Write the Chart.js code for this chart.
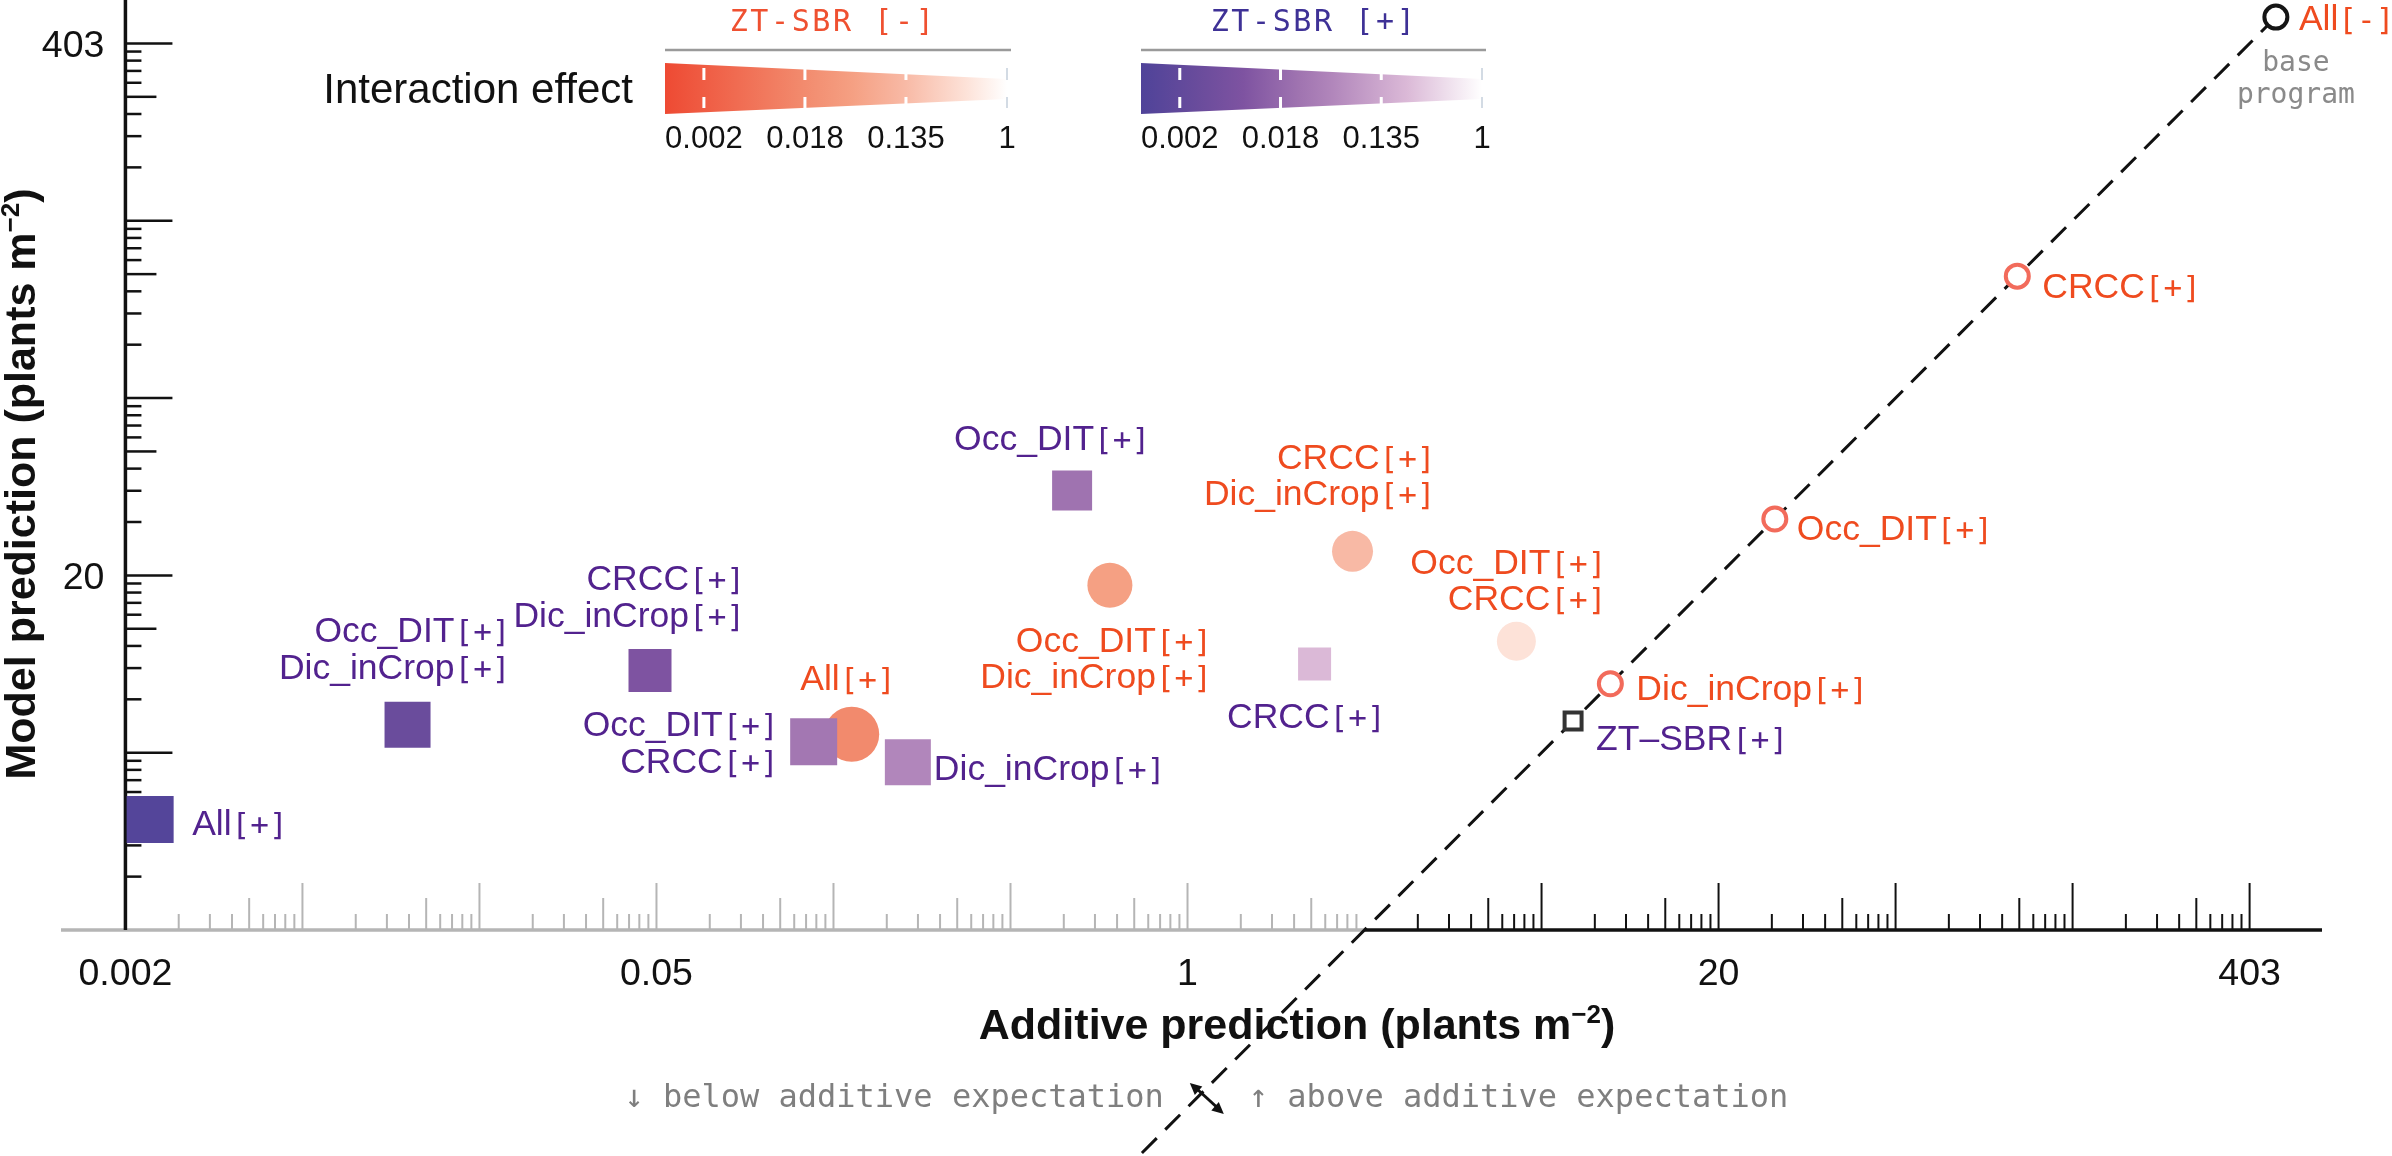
<!DOCTYPE html>
<html>
<head>
<meta charset="utf-8">
<title>Model vs additive prediction</title>
<script src="https://cdn.jsdelivr.net/npm/chart.js@4.4.1/dist/chart.umd.min.js"></script>
<style>
	html, body { margin: 0; padding: 0; background: #fff; }
	#chart { display: block; }
</style>
</head>
<body>
<canvas id="chart" width="2392" height="1156"></canvas>
<script>
;(function (window, document, undefined) {
	'use strict';

	// ZT-SBR[-] combinations (filled circles), plants m-2
	const minusLabels = [['All[+]'], ['Occ_DIT[+]', 'Dic_inCrop[+]'], ['CRCC[+]', 'Dic_inCrop[+]'], ['Occ_DIT[+]', 'CRCC[+]']];
	const minusAdditive = [0.150, 0.645, 2.54, 6.41];
	const minusModel = [8.20, 19.0, 23.0, 13.85];
	const minusEffect = [0.0172, 0.0474, 0.131, 0.445];
	const minusMagnitude = [5.5, 4.5, 4.1, 3.9];

	// ZT-SBR[+] combinations (filled squares)
	const plusLabels = [['All[+]'], ['Occ_DIT[+]', 'Dic_inCrop[+]'], ['CRCC[+]', 'Dic_inCrop[+]'], ['Occ_DIT[+]', 'CRCC[+]'], ['Dic_inCrop[+]'], ['Occ_DIT[+]'], ['CRCC[+]']];
	const plusAdditive = [0.00285, 0.0122, 0.0480, 0.121, 0.206, 0.521, 2.05];
	const plusModel = [5.07, 8.65, 11.74, 7.86, 7.00, 32.4, 12.19];
	const plusEffect = [0.0014, 0.0036, 0.0087, 0.0296, 0.0508, 0.0258, 0.225];
	const plusMagnitude = [4.7, 4.6, 4.3, 4.7, 4.6, 4.0, 3.3];

	// single changes, on the 1:1 line
	const singleLabels = ['CRCC[+]', 'Occ_DIT[+]', 'Dic_inCrop[+]'];
	const singleValues = [108.6, 27.6, 10.9];
	const ztLabel = 'ZT–SBR[+]';
	const ztValue = 8.83;
	const baseLabel = 'All[-]';
	const baseValue = 468;

	// ticks (powers of e) and their labels
	const axisTickPowers = [-6, -3, 0, 3, 6];
	const axisTickLabels = ['0.002', '0.05', '1', '20', '403'];
	const legendTickPowers = [-6, -4, -2, 0];
	const legendTickLabels = ['0.002', '0.018', '0.135', '1'];

	// --- styling ---
	const SANS = '"Liberation Sans", Arial, sans-serif';
	const MONO = '"DejaVu Sans Mono", monospace';
	const ORANGE = '#ef4b1f';
	const PURPLE = '#52228e';
	const INK = '#111111';
	const GREY = '#b5b5b5';
	const RED_STOPS = [[0, '#ee4a33'], [0.40, '#f28a6d'], [0.55, '#f5a083'], [0.70, '#f8b9a5'], [0.88, '#fde2d8'], [1, '#ffffff']];
	const PURPLE_STOPS = [[0, '#4f4399'], [0.17, '#6a4c9c'], [0.30, '#7e53a1'], [0.47, '#a175b1'], [0.56, '#b186bb'], [0.78, '#dbb9d7'], [1, '#ffffff']];
	const LEG_LN_MIN = -6.77;

	// label anchors relative to the marker (px)
	const LABEL_POS = {
		minus: [{a: 'right', dx: 40, dy: -57}, {a: 'right', dx: 98, dy: 54}, {a: 'right', dx: 79, dy: -95}, {a: 'right', dx: 86, dy: -80}],
		plus: [{a: 'left', dx: 42, dy: 3}, {a: 'right', dx: 99, dy: -95}, {a: 'right', dx: 91, dy: -93}, {a: 'right', dx: -39, dy: -18},
			{a: 'left', dx: 26, dy: 5}, {a: 'right', dx: 74, dy: -53}, {a: 'right', dx: 67, dy: 52}],
		single: [{a: 'left', dx: 25, dy: 9}, {a: 'left', dx: 22, dy: 8}, {a: 'left', dx: 26, dy: 4}],
		zt: {a: 'left', dx: 23, dy: 16},
		base: {a: 'left', dx: 23, dy: 0}
	};
	const LINE_GAP = 36.5;

	function hexToRgb(h) {
		return [parseInt(h.substr(1, 2), 16), parseInt(h.substr(3, 2), 16), parseInt(h.substr(5, 2), 16)];
	}

	function effectT(p) {
		let t = (Math.log(p) - LEG_LN_MIN) / (-LEG_LN_MIN);
		return Math.max(0, Math.min(1, t));
	}

	function effectColor(stops, p) {
		let t = effectT(p);
		for (let i = 1; i < stops.length; i++) {
			if (t <= stops[i][0]) {
				let a = hexToRgb(stops[i - 1][1]), b = hexToRgb(stops[i][1]);
				let f = (t - stops[i - 1][0]) / (stops[i][0] - stops[i - 1][0]);
				let c = a.map((v, k) => Math.round(v + (b[k] - v) * f));
				return 'rgb(' + c.join(',') + ')';
			}
		}
		return stops[stops.length - 1][1];
	}

	// name in sans, the [+]/[-] suffix in mono
	function drawTag(ctx, text, x, yMid, align, color) {
		let i = text.indexOf('[');
		let name = i < 0 ? text : text.slice(0, i);
		let suffix = i < 0 ? '' : text.slice(i);
		ctx.font = '35.5px ' + SANS;
		let w1 = ctx.measureText(name).width;
		ctx.font = '31px ' + MONO;
		let w2 = ctx.measureText(suffix).width;
		let total = w1 + w2;
		let x0 = x;
		if (align === 'right') x0 = x - total + 4;
		else if (align === 'center') x0 = x - total / 2;
		let base = yMid + 12.5;
		ctx.fillStyle = color;
		ctx.textAlign = 'left';
		ctx.textBaseline = 'alphabetic';
		ctx.font = '35.5px ' + SANS;
		ctx.fillText(name, x0, base);
		ctx.font = '31px ' + MONO;
		ctx.fillText(suffix, x0 + w1, base);
	}

	function drawTagLines(ctx, lines, px, py, pos, color) {
		lines.forEach(function (line, i) {
			drawTag(ctx, line, px + pos.dx, py + pos.dy + i * LINE_GAP, pos.a, color);
		});
	}

	// bold title with a "-2" superscript, centred on x = 0 of the current transform
	function drawUnitTitle(ctx, head, baseline) {
		let main = 'bold 43px ' + SANS, sup = 'bold 26px ' + SANS;
		ctx.font = main;
		let w1 = ctx.measureText(head).width, w3 = ctx.measureText(')').width;
		ctx.font = sup;
		let w2 = ctx.measureText('−2').width;
		let x = -(w1 + w2 + w3) / 2;
		ctx.textAlign = 'left';
		ctx.textBaseline = 'alphabetic';
		ctx.fillStyle = INK;
		ctx.font = main;
		ctx.fillText(head, x, baseline);
		ctx.font = sup;
		ctx.fillText('−2', x + w1, baseline - 16);
		ctx.font = main;
		ctx.fillText(')', x + w1 + w2, baseline);
	}

	function drawLegend(ctx, left, right, stops, title, titleColor, titleCx) {
		let pxPerLn = (right - left) / (-LEG_LN_MIN);

		ctx.font = '30px ' + MONO;
		ctx.letterSpacing = '2.6px';
		ctx.fillStyle = titleColor;
		ctx.textAlign = 'center';
		ctx.textBaseline = 'alphabetic';
		ctx.fillText(title, titleCx + 1, 31);
		ctx.letterSpacing = '0px';

		ctx.strokeStyle = '#9a9a9a';
		ctx.lineWidth = 2.5;
		ctx.beginPath();
		ctx.moveTo(left, 50);
		ctx.lineTo(right + 4, 50);
		ctx.stroke();

		let grad = ctx.createLinearGradient(left, 0, right, 0);
		stops.forEach(function (s) { grad.addColorStop(s[0], s[1]); });
		ctx.fillStyle = grad;
		ctx.beginPath();
		ctx.moveTo(left, 63);
		ctx.lineTo(right, 79);
		ctx.lineTo(right, 99);
		ctx.lineTo(left, 114);
		ctx.closePath();
		ctx.fill();

		legendTickPowers.forEach(function (p, i) {
			let x = right + p * pxPerLn;
			ctx.strokeStyle = p === 0 ? '#c5cfdb' : '#ffffff';
			ctx.lineWidth = p === 0 ? 1.5 : 3;
			ctx.beginPath();
			ctx.moveTo(x, 68); ctx.lineTo(x, 80);
			ctx.moveTo(x, 97); ctx.lineTo(x, 108);
			ctx.stroke();

			ctx.font = '31px ' + SANS;
			ctx.fillStyle = INK;
			ctx.textAlign = 'center';
			ctx.fillText(legendTickLabels[i], x, 148);
		});
	}

	function arrowHead(ctx, x, y, ang, len) {
		ctx.beginPath();
		ctx.moveTo(x, y);
		ctx.lineTo(x - len * Math.cos(ang - 0.45), y - len * Math.sin(ang - 0.45));
		ctx.lineTo(x - len * Math.cos(ang + 0.45), y - len * Math.sin(ang + 0.45));
		ctx.closePath();
		ctx.fill();
	}

	const decorPlugin = {
		id: 'decor',
		beforeDatasetsDraw: function (chart) {
			const ctx = chart.ctx, xs = chart.scales.x, ys = chart.scales.y, area = chart.chartArea;
			const log10 = Math.log10;
			ctx.save();

			const yAxisX = xs.getPixelForValue(Math.exp(-6));
			const crossX = xs.getPixelForValue(ys.min);

			// x axis: grey below the 1:1 line, black above it
			ctx.lineWidth = 3.5;
			ctx.strokeStyle = GREY;
			ctx.beginPath(); ctx.moveTo(area.left, area.bottom); ctx.lineTo(crossX, area.bottom); ctx.stroke();
			ctx.strokeStyle = INK;
			ctx.beginPath(); ctx.moveTo(crossX, area.bottom); ctx.lineTo(area.right, area.bottom); ctx.stroke();

			ctx.lineWidth = 2;
			for (let k = -6; k <= 6; k++) {
				for (let m = 1; m <= 9; m++) {
					if (m === 1 && (k === -6 || k === 1)) continue;
					if (m > 1 && k === 6) continue;
					let v = Math.exp(k + (m === 1 ? 0 : log10(m)));
					let px = xs.getPixelForValue(v);
					let len = m === 1 ? 47 : (m === 5 ? 32 : 16);
					ctx.strokeStyle = px < crossX ? GREY : INK;
					ctx.beginPath(); ctx.moveTo(px, area.bottom); ctx.lineTo(px, area.bottom - len); ctx.stroke();
				}
			}

			// y axis
			ctx.strokeStyle = INK;
			ctx.lineWidth = 3.5;
			ctx.beginPath(); ctx.moveTo(yAxisX, area.top); ctx.lineTo(yAxisX, area.bottom); ctx.stroke();
			ctx.lineWidth = 2.5;
			for (let k = 1; k <= 6; k++) {
				for (let m = 1; m <= 9; m++) {
					if (m === 1 && k === 1) continue;
					if (m > 1 && k === 6) continue;
					let py = ys.getPixelForValue(Math.exp(k + (m === 1 ? 0 : log10(m))));
					let len = m === 1 ? 47 : (m === 5 ? 31 : 16);
					ctx.beginPath(); ctx.moveTo(yAxisX, py); ctx.lineTo(yAxisX + len, py); ctx.stroke();
				}
			}

			// tick labels
			ctx.font = '37.5px ' + SANS;
			ctx.fillStyle = INK;
			ctx.textBaseline = 'alphabetic';
			axisTickPowers.forEach(function (p, i) {
				let v = Math.exp(p);
				ctx.textAlign = 'center';
				ctx.fillText(axisTickLabels[i], xs.getPixelForValue(v), area.bottom + 55);
				if (v >= ys.min && v <= ys.max) {
					ctx.textAlign = 'right';
					ctx.fillText(axisTickLabels[i], yAxisX - 21, ys.getPixelForValue(v) + 13.5);
				}
			});

			// axis titles
			ctx.save();
			ctx.translate(1297, 0);
			drawUnitTitle(ctx, 'Additive prediction (plants m', 1039);
			ctx.restore();
			ctx.save();
			ctx.translate(35, 484);
			ctx.rotate(-Math.PI / 2);
			drawUnitTitle(ctx, 'Model prediction (plants m', 0);
			ctx.restore();

			// 1:1 line, running past the axis to the bottom edge
			const vBot = ys.getValueForPixel(chart.height);
			ctx.setLineDash([21, 12]);
			ctx.lineWidth = 3;
			ctx.strokeStyle = INK;
			ctx.beginPath();
			ctx.moveTo(xs.getPixelForValue(baseValue), ys.getPixelForValue(baseValue));
			ctx.lineTo(xs.getPixelForValue(vBot), ys.getPixelForValue(vBot));
			ctx.stroke();
			ctx.setLineDash([]);

			// below / above annotation around the line
			const noteY = 1098;
			const vNote = ys.getValueForPixel(noteY);
			const lineX = xs.getPixelForValue(vNote);
			ctx.font = '32px ' + MONO;
			ctx.fillStyle = '#7f7f7f';
			ctx.textAlign = 'right';
			ctx.fillText('↓ below additive expectation', lineX - 33, 1107);
			ctx.textAlign = 'left';
			ctx.fillText('↑ above additive expectation', lineX + 52, 1107);

			const ax = lineX + 10;
			ctx.strokeStyle = INK;
			ctx.fillStyle = INK;
			ctx.lineWidth = 3;
			ctx.beginPath(); ctx.moveTo(ax - 12, noteY - 11); ctx.lineTo(ax + 12, noteY + 11); ctx.stroke();
			const ang = Math.atan2(31, 35);
			arrowHead(ctx, ax + 17, noteY + 16, ang, 13);
			arrowHead(ctx, ax - 17, noteY - 15, ang + Math.PI, 13);

			// effect legends
			ctx.font = '42px ' + SANS;
			ctx.fillStyle = INK;
			ctx.textAlign = 'right';
			ctx.fillText('Interaction effect', 633, 103);
			drawLegend(ctx, 665, 1007, RED_STOPS, 'ZT-SBR [-]', '#ef5030', 832);
			drawLegend(ctx, 1141, 1482, PURPLE_STOPS, 'ZT-SBR [+]', '#3e3196', 1313);

			ctx.restore();
		},
		afterDatasetsDraw: function (chart) {
			const ctx = chart.ctx;
			ctx.save();
			const pts = function (i) { return chart.getDatasetMeta(i).data; };

			pts(0).forEach(function (el, i) { drawTagLines(ctx, minusLabels[i], el.x, el.y, LABEL_POS.minus[i], ORANGE); });
			pts(1).forEach(function (el, i) { drawTagLines(ctx, plusLabels[i], el.x, el.y, LABEL_POS.plus[i], PURPLE); });
			pts(2).forEach(function (el, i) { drawTagLines(ctx, [singleLabels[i]], el.x, el.y, LABEL_POS.single[i], ORANGE); });

			let zt = pts(3)[0];
			drawTagLines(ctx, [ztLabel], zt.x, zt.y, LABEL_POS.zt, PURPLE);

			let base = pts(4)[0];
			drawTagLines(ctx, [baseLabel], base.x, base.y, LABEL_POS.base, ORANGE);
			ctx.font = '28px ' + MONO;
			ctx.fillStyle = '#8a8a8a';
			ctx.textAlign = 'center';
			ctx.fillText('base', base.x + 20, base.y + 54);
			ctx.fillText('program', base.x + 20, base.y + 86);

			ctx.restore();
		}
	};

	const pairs = function (xsArr, ysArr) {
		return xsArr.map(function (x, i) { return {x: x, y: ysArr[i]}; });
	};

	new Chart(document.getElementById('chart'), {
		type: 'scatter',
		data: {
			datasets: [{
				label: 'ZT-SBR [-] combinations',
				data: pairs(minusAdditive, minusModel),
				pointStyle: 'circle',
				pointRadius: minusMagnitude.map(function (m) { return m * 5; }),
				pointBackgroundColor: minusEffect.map(function (p) { return effectColor(RED_STOPS, p); }),
				pointBorderWidth: 0,
				clip: false,
				order: 2
			}, {
				label: 'ZT-SBR [+] combinations',
				data: pairs(plusAdditive, plusModel),
				pointStyle: 'rect',
				pointRadius: plusMagnitude.map(function (m) { return m * 10 / (2 * Math.SQRT1_2); }),
				pointBackgroundColor: plusEffect.map(function (p) { return effectColor(PURPLE_STOPS, p); }),
				pointBorderWidth: 0,
				clip: false,
				order: 1
			}, {
				label: 'single changes',
				data: pairs(singleValues, singleValues),
				pointStyle: 'circle',
				pointRadius: 11.5,
				pointBackgroundColor: '#ffffff',
				pointBorderColor: '#f26b5b',
				pointBorderWidth: 4,
				clip: false,
				order: 0
			}, {
				label: ztLabel,
				data: [{x: ztValue, y: ztValue}],
				pointStyle: 'rect',
				pointRadius: 12,
				pointBackgroundColor: '#ffffff',
				pointBorderColor: '#333333',
				pointBorderWidth: 4,
				clip: false,
				order: 0
			}, {
				label: baseLabel,
				data: [{x: baseValue, y: baseValue}],
				pointStyle: 'circle',
				pointRadius: 11.5,
				pointBackgroundColor: '#ffffff',
				pointBorderColor: '#151515',
				pointBorderWidth: 4,
				clip: false,
				order: 0
			}]
		},
		options: {
			responsive: false,
			animation: false,
			devicePixelRatio: 1,
			events: [],
			layout: { autoPadding: false, padding: { left: 61, right: 70, top: 0, bottom: 226 } },
			plugins: { legend: { display: false }, tooltip: { enabled: false } },
			scales: {
				x: { type: 'logarithmic', bounds: 'data', min: Math.exp(-6.364), max: Math.exp(6.409), display: false },
				y: { type: 'logarithmic', bounds: 'data', min: Math.exp(1.0), max: Math.exp(6.245), display: false }
			}
		},
		plugins: [decorPlugin]
	});

})(window, document);
</script>
</body>
</html>
